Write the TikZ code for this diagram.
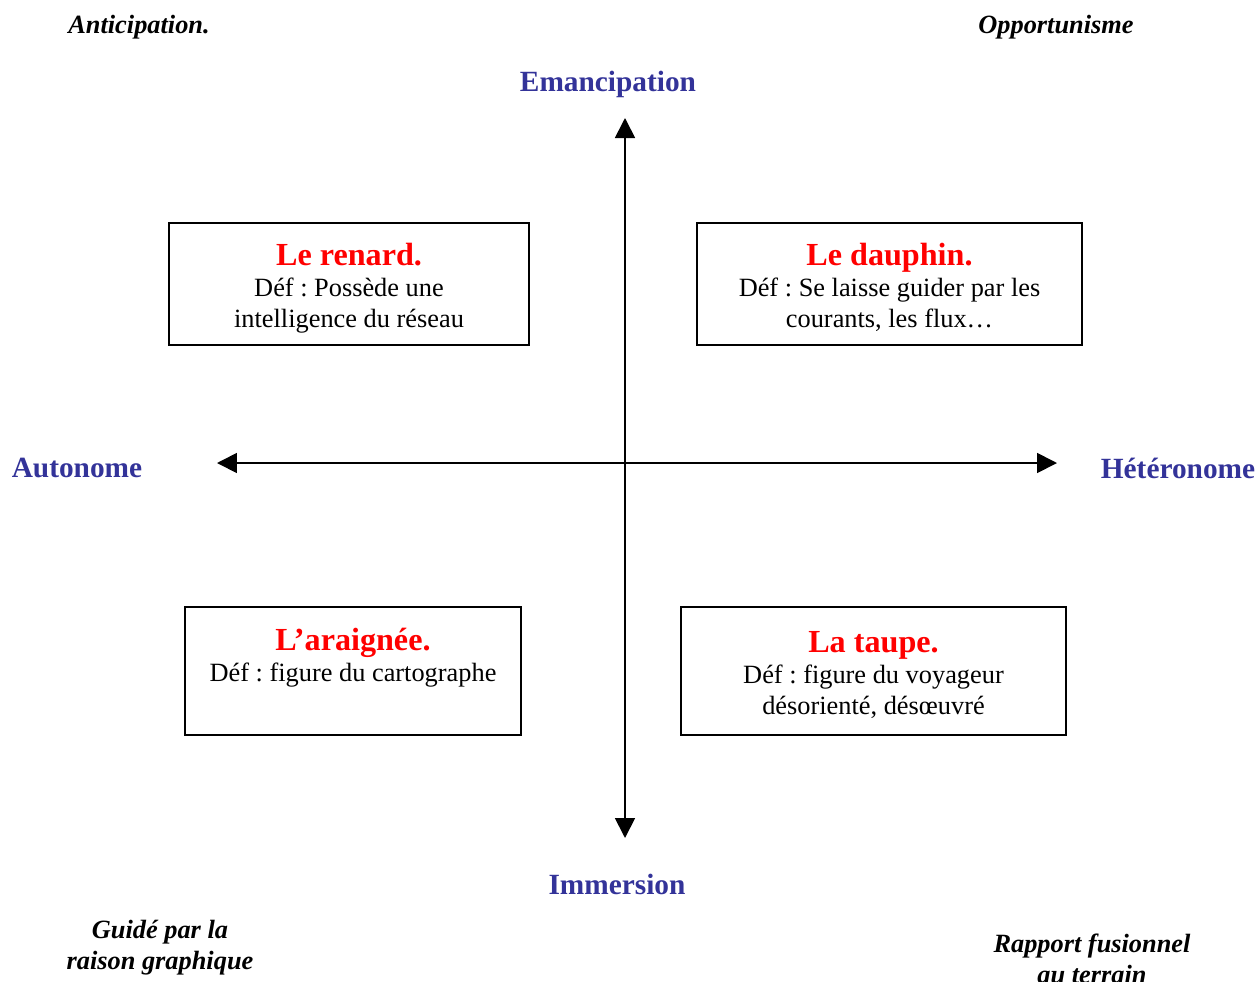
\documentclass[tikz,border=0pt]{standalone}
\usepackage{fontspec}
\setmainfont{Liberation Serif}
\usetikzlibrary{arrows.meta}
\frenchspacing
\definecolor{axisblue}{RGB}{51,51,153}
\newcommand{\animalname}[1]{{\color{red}\fontsize{18.3}{17.6}\selectfont\bfseries\rule{0pt}{17pt}#1}}
\begin{document}
\begin{tikzpicture}[x=0.02cm, y=-0.02cm,
    animalbox/.style={draw, line width=1pt, align=center, inner sep=0pt,
      font=\fontsize{15}{17.6}\selectfont},
    axislabel/.style={font=\fontsize{16.7}{18}\selectfont\bfseries, text=axisblue},
    corner/.style={align=center, font=\fontsize{15}{17.6}\selectfont\bfseries\itshape}]

  \useasboundingbox (0, 0) rectangle (1258, 981);

  % axes
  \coordinate (top) at (625, 118);
  \coordinate (bottom) at (625, 838);
  \coordinate (left) at (217, 463);
  \coordinate (right) at (1057, 463);
  \draw[line width=1pt, {Triangle[length=0.4cm, width=0.4cm]}-{Triangle[length=0.4cm, width=0.4cm]}] (top) -- (bottom);
  \draw[line width=1pt, {Triangle[length=0.4cm, width=0.4cm]}-{Triangle[length=0.4cm, width=0.4cm]}] (left) -- (right);

  \node[axislabel] (emancipation) at (608, 84) {Emancipation};
  \node[axislabel] (immersion) at (617, 884) {Immersion};
  \node[axislabel] (autonome) at (77, 468) {Autonome};
  \node[axislabel] (heteronome) at (1178, 468) {Hétéronome};

  % the four figures
  \node[animalbox, minimum width=7.2cm, minimum height=2.44cm] (renard) at (349, 284)
    {\animalname{Le renard.}\\Déf : Possède une\\intelligence du réseau};
  \node[animalbox, minimum width=7.7cm, minimum height=2.44cm] (dauphin) at (889.5, 284)
    {\animalname{Le dauphin.}\\Déf : Se laisse guider par les\\courants, les flux…};
  \node[animalbox, minimum width=6.72cm, minimum height=2.56cm] (araignee) at (353, 671)
    {\animalname{L’araignée.}\\Déf : figure du cartographe\\\strut};
  \node[animalbox, minimum width=7.7cm, minimum height=2.56cm] (taupe) at (873.5, 671)
    {\animalname{La taupe.}\\Déf : figure du voyageur\\désorienté, désœuvré};

  % corners
  \node[corner] (anticipation) at (139, 27) {Anticipation.};
  \node[corner] (opportunisme) at (1056, 27) {Opportunisme};
  \node[corner] (guide) at (160, 948) {Guidé par la\\raison graphique};
  \node[corner] (rapport) at (1092, 959) {Rapport fusionnel\\au terrain};

\end{tikzpicture}
\end{document}
